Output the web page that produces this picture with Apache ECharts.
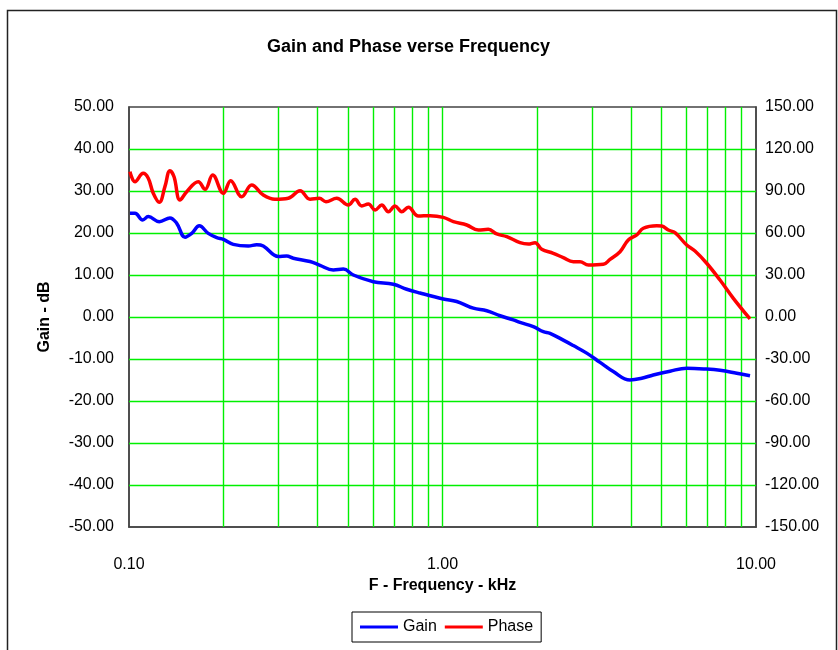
<!DOCTYPE html>
<html>
<head>
<meta charset="UTF-8">
<title>Gain and Phase verse Frequency</title>
<script src="https://cdn.jsdelivr.net/npm/echarts@6/dist/echarts.min.js"></script>
<style>
	html, body { margin: 0; padding: 0; background: #fff; }
	#main { width: 838px; height: 650px; }
</style>
</head>
<body>
<div id="main"></div>
<script>
// gain curve (kHz, dB)
var gainFreq = [0.1007, 0.1045, 0.1106, 0.1152, 0.1249, 0.1351, 0.142, 0.1509, 0.1585, 0.1676,
	0.179, 0.1905, 0.2, 0.2151, 0.2402, 0.2555, 0.2681, 0.2994, 0.3184, 0.3343,
	0.3779, 0.4067, 0.4485, 0.4828, 0.5196, 0.6017, 0.6968, 0.7689, 0.8479, 1.006,
	1.110, 1.254, 1.384, 1.526, 1.682, 1.767, 1.948, 2.097, 2.203, 2.428,
	2.614, 2.884, 3.181, 3.506, 3.963, 4.32, 4.703, 5.317, 6.011, 6.961,
	7.677, 8.679, 9.570];
var gainDb = [24.7, 24.7, 23.1, 23.9, 22.7, 23.6, 22.3, 19.0, 19.9, 21.7,
	19.9, 18.9, 18.5, 17.3, 16.9, 17.2, 16.9, 14.4, 14.5, 14.0,
	13.2, 12.3, 11.2, 11.4, 10.0, 8.4, 7.8, 6.6, 5.7, 4.3,
	3.7, 2.1, 1.5, 0.3, -0.7, -1.3, -2.3, -3.5, -3.9, -5.5,
	-6.8, -8.6, -10.8, -13.0, -15.0, -14.6, -13.8, -12.9, -12.2, -12.4,
	-12.7, -13.4, -14.0];

// phase curve (kHz, degrees)
var phaseFreq = [0.1007, 0.1045, 0.111, 0.1152, 0.1195, 0.1249, 0.1302, 0.1351, 0.1392, 0.1454,
	0.1528, 0.1663, 0.1748, 0.1849, 0.2, 0.211, 0.2288, 0.2462, 0.2681, 0.2922,
	0.3222, 0.3512, 0.3779, 0.4046, 0.4250, 0.4598, 0.5007, 0.5261, 0.5526, 0.58,
	0.6094, 0.6401, 0.6718, 0.7056, 0.7412, 0.778, 0.8374, 0.9124, 1.006, 1.083,
	1.195, 1.301, 1.400, 1.489, 1.603, 1.767, 1.878, 1.973, 2.072, 2.257,
	2.428, 2.614, 2.746, 2.918, 3.259, 3.423, 3.684, 3.914, 4.165, 4.371,
	4.823, 5.003, 5.252, 5.516, 6.011, 6.389, 6.961, 7.677, 8.467, 9.570];
var phaseDeg = [103.8, 96.6, 102.6, 99.1, 88.4, 81.9, 93.1, 104.5, 100.2, 83.6,
	89.5, 96.6, 91.2, 101.4, 88.4, 97.4, 85.9, 94.3, 87.1, 84.1,
	84.8, 90.2, 84.1, 84.8, 82.4, 84.8, 80.0, 84.1, 79.3, 80.7,
	76.4, 80.0, 75.2, 79.3, 75.2, 78.4, 72.1, 72.4, 71.2, 68.1,
	65.7, 62.1, 62.6, 59.3, 57.4, 53.1, 52.1, 53.1, 48.4, 45.5,
	42.4, 39.5, 39.5, 37.1, 37.6, 41.2, 46.6, 55.0, 58.6, 63.4,
	65.2, 65.0, 62.1, 60.2, 51.4, 47.1, 38.4, 26.4, 13.3, -1.4];

// green grid lines: log axis minor steps and the dB levels
var gridFreq = [0.2, 0.3, 0.4, 0.5, 0.6, 0.7, 0.8, 0.9, 1, 2, 3, 4, 5, 6, 7, 8, 9];
var gridDb = [-40, -30, -20, -10, 0, 10, 20, 30, 40];

function pairs(xs, ys) {
	var out = [];
	for (var i = 0; i < xs.length; i++) out.push([xs[i], ys[i]]);
	return out;
}

var font = 'Liberation Sans, Arial, sans-serif';
var green = '#00f000';

var gridLines = gridFreq.map(function (f) { return { xAxis: f }; })
	.concat(gridDb.map(function (d) { return { yAxis: d }; }));

var myChart = echarts.init(document.getElementById('main'));
var option = {
	backgroundColor: '#fff',
	animation: false,
	textStyle: { fontFamily: font },
	title: {
		text: 'Gain and Phase verse Frequency',
		left: 262,
		top: 33,
		textStyle: { fontSize: 18, fontWeight: 'bold', color: '#000', fontFamily: font }
	},
	graphic: [{
		type: 'rect',
		shape: { x: 7.5, y: 10.5, width: 829, height: 660 },
		style: { fill: 'none', stroke: '#222', lineWidth: 1.5 },
		silent: true,
		z: -1
	}],
	legend: {
		left: 352,
		top: 612,
		padding: [7, 8, 7, 8],
		borderColor: '#000',
		borderWidth: 1,
		icon: 'rect',
		itemWidth: 38,
		itemHeight: 3,
		itemGap: 8,
		textStyle: { fontSize: 16, color: '#000', fontFamily: font },
		data: ['Gain', 'Phase']
	},
	grid: {
		left: 129,
		right: 82,
		top: 107,
		bottom: 123,
		show: true,
		borderColor: '#444',
		borderWidth: 1.5
	},
	xAxis: {
		type: 'log',
		logBase: 10,
		min: 0.1,
		max: 10,
		name: 'F - Frequency - kHz',
		nameLocation: 'middle',
		nameGap: 45,
		nameTextStyle: { fontSize: 16, fontWeight: 'bold', color: '#000', fontFamily: font },
		axisLine: { show: true, onZero: false, lineStyle: { color: '#444', width: 1.5 } },
		axisTick: { show: false },
		axisLabel: {
			margin: 30,
			fontSize: 16,
			color: '#000',
			formatter: function (v) { return Number(v).toFixed(2); }
		},
		splitLine: { show: false }
	},
	yAxis: [{
		type: 'value',
		min: -50,
		max: 50,
		interval: 10,
		name: 'Gain - dB',
		nameLocation: 'middle',
		nameGap: 76,
		nameTextStyle: { fontSize: 16, fontWeight: 'bold', color: '#000', fontFamily: font },
		axisLine: { show: true, onZero: false, lineStyle: { color: '#444', width: 1.5 } },
		axisTick: { show: false },
		axisLabel: {
			margin: 15,
			fontSize: 16,
			color: '#000',
			formatter: function (v) { return v.toFixed(2); }
		},
		splitLine: { show: false }
	}, {
		type: 'value',
		min: -150,
		max: 150,
		interval: 30,
		position: 'right',
		axisLine: { show: true, onZero: false, lineStyle: { color: '#444', width: 1.5 } },
		axisTick: { show: false },
		axisLabel: {
			margin: 9,
			fontSize: 16,
			color: '#000',
			formatter: function (v) { return v.toFixed(2); }
		},
		splitLine: { show: false }
	}],
	series: [{
		name: 'Gain',
		type: 'line',
		data: pairs(gainFreq, gainDb),
		symbol: 'none',
		smooth: 0.4,
		lineStyle: { color: '#0000ff', width: 3.5 },
		itemStyle: { color: '#0000ff' },
		z: 3,
		markLine: {
			silent: true,
			symbol: ['none', 'none'],
			z: 1,
			label: { show: false },
			lineStyle: { color: green, width: 1.4, type: 'solid', opacity: 1 },
			emphasis: { disabled: true },
			data: gridLines
		}
	}, {
		name: 'Phase',
		type: 'line',
		yAxisIndex: 1,
		data: pairs(phaseFreq, phaseDeg),
		symbol: 'none',
		smooth: 0.4,
		lineStyle: { color: '#ff0000', width: 3.5 },
		itemStyle: { color: '#ff0000' },
		z: 3
	}]
};
myChart.setOption(option);
</script>
</body>
</html>
